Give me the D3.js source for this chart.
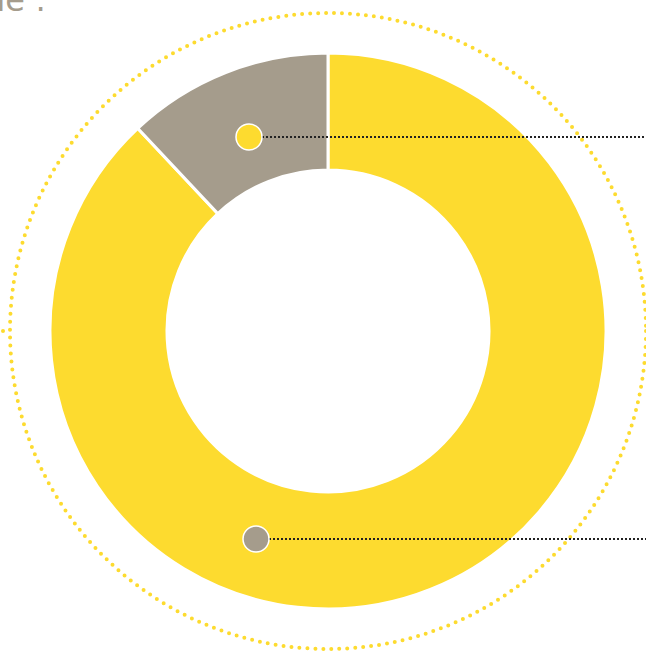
<!DOCTYPE html>
<html>
<head>
<meta charset="utf-8">
<script src="https://cdn.jsdelivr.net/npm/d3@7"></script>
<style>
body { margin: 0; background: #fff; }
svg { display: block; }
</style>
</head>
<body>
<svg></svg>
<script>
var labels = ['Jaune', 'Gris']
var values = [88, 12]
var colors = ['#fddb2f', '#a59c8c']
var markerColors = ['#fddb2f', '#a59c8c']
var markerY = [137, 539]

var width = 646
var height = 651
var cx = 328
var cy = 331

var svg = d3.select('svg')
svg.attr('width', width).attr('height', height)

// title is cut off by the top edge, as in the source
svg.append('text')
	.attr('x', 46)
	.attr('y', 11)
	.attr('text-anchor', 'end')
	.attr('font-family', 'DejaVu Sans')
	.attr('font-size', 32)
	.attr('fill', '#a59c8c')
	.text('le :')

var g = svg.append('g').attr('transform', 'translate(' + cx + ',' + cy + ')')

// dotted ring round the donut
g.append('circle')
	.attr('r', 318)
	.attr('fill', 'none')
	.attr('stroke', '#fddb2f')
	.attr('stroke-width', 4)
	.attr('stroke-linecap', 'round')
	.attr('stroke-dasharray', '0 8')

g.append('circle')
	.attr('cx', -325)
	.attr('cy', 0)
	.attr('r', 2)
	.attr('fill', '#fddb2f')

var pie = d3.pie().sort(null).value(function(d) {return d})
var arc = d3.arc().innerRadius(161).outerRadius(278)

g.selectAll('path')
	.data(pie(values))
	.enter().append('path')
	.attr('d', arc)
	.attr('fill', function(d, i) {return colors[i]})
	.attr('stroke', '#fff')
	.attr('stroke-width', 3)

// leader lines and markers
var markers = svg.append('g')
markers.selectAll('line')
	.data(labels)
	.enter().append('line')
	.attr('x1', function(d, i) {return i === 0 ? 262 : 269})
	.attr('x2', width)
	.attr('y1', function(d, i) {return markerY[i]})
	.attr('y2', function(d, i) {return markerY[i]})
	.attr('stroke', '#222')
	.attr('stroke-width', 2)
	.attr('stroke-dasharray', '2 2')

markers.selectAll('circle')
	.data(labels)
	.enter().append('circle')
	.attr('cx', function(d, i) {return i === 0 ? 249 : 256})
	.attr('cy', function(d, i) {return markerY[i]})
	.attr('r', 13)
	.attr('fill', function(d, i) {return markerColors[i]})
	.attr('stroke', '#fff')
	.attr('stroke-width', 1.5)
</script>
</body>
</html>
